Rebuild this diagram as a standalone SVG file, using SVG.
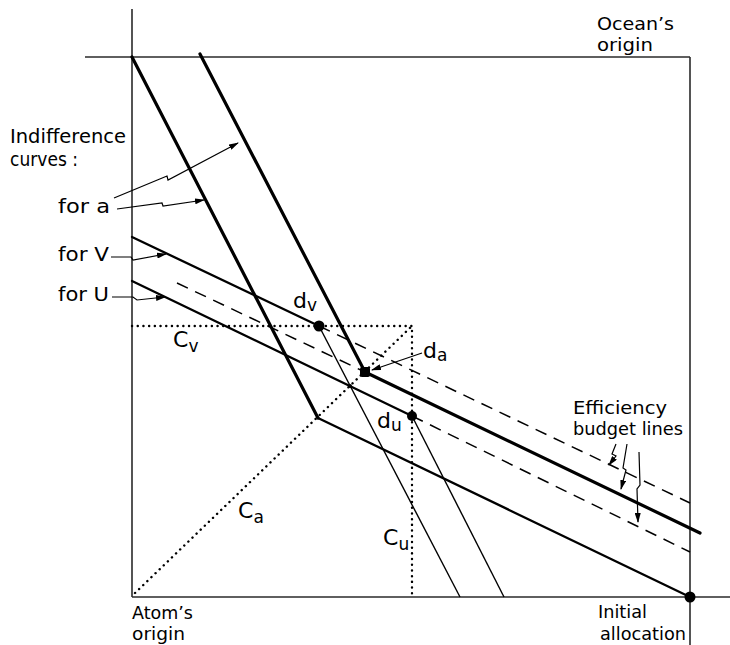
<svg xmlns="http://www.w3.org/2000/svg" width="730" height="645" viewBox="0 0 730 645">
<defs>
<style>
.ax{stroke:#2a2a2a;stroke-width:1.6;fill:none}
.thick{stroke:#000;stroke-width:3.2;fill:none;stroke-linecap:round;stroke-linejoin:round}
.med{stroke:#000;stroke-width:2.3;fill:none;stroke-linecap:round;stroke-linejoin:round}
.thin{stroke:#000;stroke-width:1.4;fill:none}
.dash{stroke:#000;stroke-width:1.5;fill:none;stroke-dasharray:12 8}
.dot{stroke:#000;stroke-width:2.4;fill:none;stroke-linecap:round;stroke-dasharray:0.1 5.6}
.arr{stroke:#000;stroke-width:1.2;fill:none;marker-end:url(#ah)}
text{font-family:"DejaVu Sans","Liberation Sans",Arial,sans-serif;font-size:20px;fill:#000}
.two{font-size:18px}
.lbl{font-size:22px}
.sub{font-size:17px}
</style>
<marker id="ah" markerWidth="10" markerHeight="6" refX="9" refY="3" orient="auto" markerUnits="userSpaceOnUse">
<path d="M0,0 L10,3 L0,6 z" fill="#000"/>
</marker>
</defs>
<rect width="730" height="645" fill="#fff"/>
<g id="axes">
<line class="ax" x1="132" y1="9" x2="132" y2="597"/>
<line class="ax" x1="85" y1="57" x2="690" y2="57"/>
<line class="ax" x1="690" y1="57" x2="690" y2="645"/>
<line class="ax" x1="132" y1="597" x2="730" y2="597"/>
</g>
<g id="contract-curves">
<polyline class="dot" points="132,326 412,326 412,597"/>
<line class="dot" x1="135" y1="593" x2="412" y2="326"/>
</g>
<g id="indifference-a">
<polyline class="thick" points="132,57 318,418"/>
<line class="med" x1="318" y1="418" x2="690" y2="597"/>
<line class="thick" x1="200" y1="54" x2="365" y2="372"/>
</g>
<g id="indifference-v">
<line class="med" x1="132" y1="237" x2="319" y2="326"/>
<line class="thin" x1="319" y1="326" x2="460" y2="597"/>
</g>
<g id="indifference-u">
<line class="med" x1="132" y1="281" x2="412" y2="416"/>
<line class="thin" x1="412" y1="416" x2="504" y2="597"/>
</g>
<g id="budget-lines">
<line class="dash" x1="319" y1="326" x2="690" y2="503"/>
<line class="dash" x1="177" y1="283" x2="365" y2="372"/>
<line class="thick" x1="365" y1="372" x2="700" y2="533"/>
<line class="dash" x1="412" y1="416" x2="690" y2="552"/>
</g>
<g id="points">
<circle cx="319" cy="326" r="5.5"/>
<rect x="360" y="367" width="10" height="10" rx="2"/>
<circle cx="412" cy="416" r="5"/>
<circle cx="690" cy="597" r="5.5"/>
<circle cx="350" cy="386" r="2"/>
</g>
<g id="connectors">
<polyline class="arr" points="114,198 167,176 168,180 238,143"/>
<polyline class="arr" points="117,209 162,203 163,206 204,200"/>
<polyline class="arr" points="111,257 131,257 133,260 166,254"/>
<polyline class="arr" points="112,297 133,297 137,300 165,297"/>
<line class="arr" x1="422" y1="353" x2="372" y2="370"/>
<polyline class="arr" points="616,444 612,454 616,456 609,465"/>
<polyline class="arr" points="627,444 623,468 626,470 621,489"/>
<polyline class="arr" points="639,452 640,485 637,489 638,522"/>
</g>
<g id="labels">
<text class="two" x="597" y="30" textLength="77" lengthAdjust="spacingAndGlyphs">Ocean’s</text>
<text class="two" x="597" y="51" textLength="56" lengthAdjust="spacingAndGlyphs">origin</text>
<text x="10" y="143" textLength="116" lengthAdjust="spacingAndGlyphs">Indifference</text>
<text x="10" y="166" textLength="68" lengthAdjust="spacingAndGlyphs">curves :</text>
<text x="58" y="213" textLength="52" lengthAdjust="spacingAndGlyphs">for  a</text>
<text x="58" y="261" textLength="51" lengthAdjust="spacingAndGlyphs">for V</text>
<text x="58" y="301" textLength="51" lengthAdjust="spacingAndGlyphs">for U</text>
<text class="two" x="573" y="414" textLength="94" lengthAdjust="spacingAndGlyphs">Efficiency</text>
<text class="two" x="573" y="435" textLength="110" lengthAdjust="spacingAndGlyphs">budget lines</text>
<text class="two" x="132" y="619" textLength="61" lengthAdjust="spacingAndGlyphs">Atom’s</text>
<text class="two" x="132" y="640" textLength="53" lengthAdjust="spacingAndGlyphs">origin</text>
<text class="two" x="598" y="618" textLength="49" lengthAdjust="spacingAndGlyphs">Initial</text>
<text class="two" x="600" y="640" textLength="86" lengthAdjust="spacingAndGlyphs">allocation</text>
<text class="lbl" x="293" y="308">d<tspan class="sub" dy="3">v</tspan></text>
<text class="lbl" x="173" y="347">C<tspan class="sub" dy="5">v</tspan></text>
<text class="lbl" x="423" y="358">d<tspan class="sub" dy="3">a</tspan></text>
<text class="lbl" x="377" y="428">d<tspan class="sub" dy="3">u</tspan></text>
<text class="lbl" x="238" y="518">C<tspan class="sub" dy="5">a</tspan></text>
<text class="lbl" x="383" y="545">C<tspan class="sub" dy="5">u</tspan></text>
</g>
</svg>
